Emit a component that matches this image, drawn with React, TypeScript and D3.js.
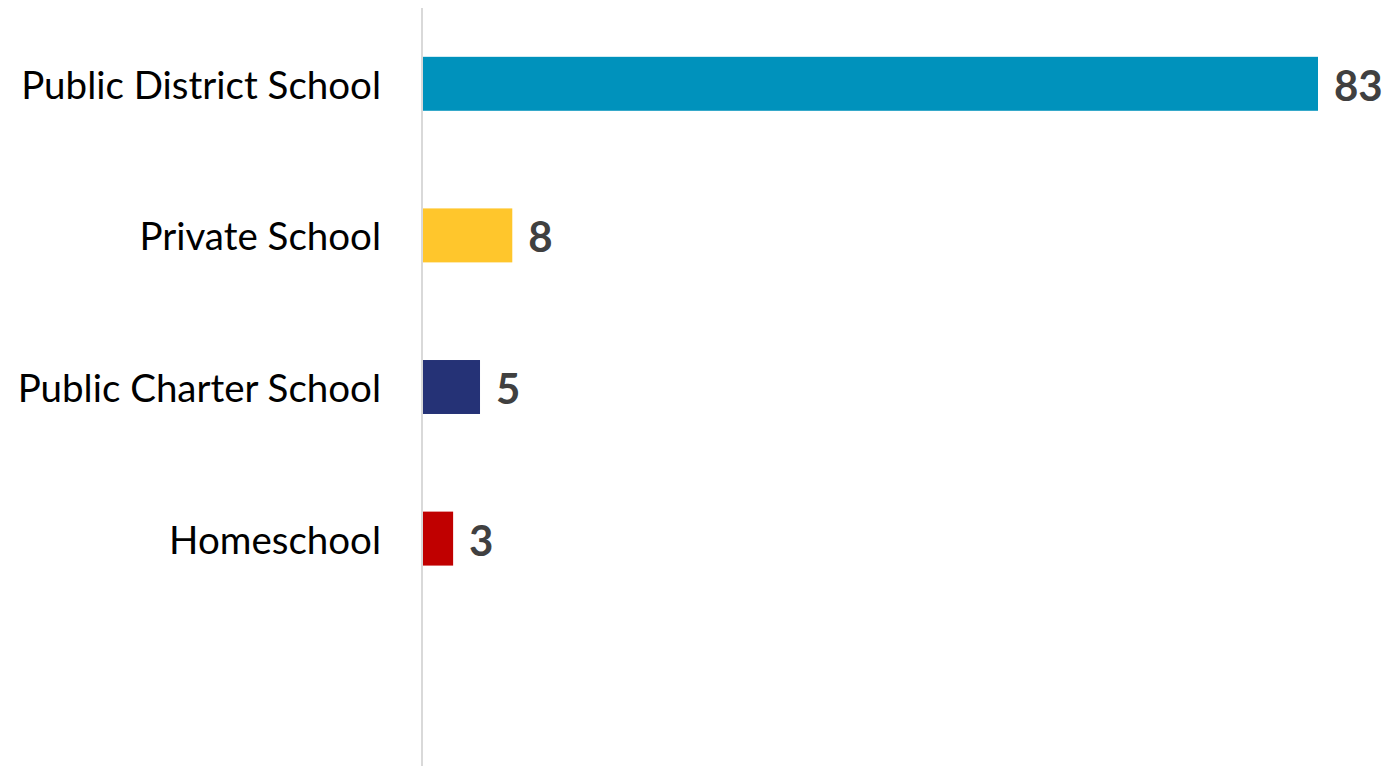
import React, { useEffect, useRef } from 'react';
import * as d3 from 'd3';

const categories = ['Public District School', 'Private School', 'Public Charter School', 'Homeschool'];
const values = [83.2, 8.3, 5.3, 2.8];
const valueLabels = ['83', '8', '5', '3'];
const colors = ['#0092BC', '#FFC62C', '#253276', '#C00000'];

const W = 1386;
const H = 766;

const App: React.FC = () => {
  const svgRef = useRef<SVGSVGElement>(null);

  useEffect(() => {
    document.body.style.margin = '0';
    if (!svgRef.current) return;
    const svg = d3.select(svgRef.current);
    svg.selectAll('*').remove();

    const axisX = 422;
    const top = 8;
    const step = (H - top) / 5;

    const y = d3.scaleBand<string>()
      .domain(categories)
      .range([top, top + step * categories.length])
      .paddingInner(0.644)
      .paddingOuter(0.322);

    const x = d3.scaleLinear()
      .domain([0, d3.max(values) || 0])
      .range([axisX + 1, 1318]);

    // Axis line
    svg.append('line')
      .attr('x1', axisX).attr('x2', axisX)
      .attr('y1', top).attr('y2', H)
      .attr('stroke', '#d9d9d9')
      .attr('stroke-width', 2);

    // Bars
    svg.selectAll('.bar')
      .data(categories)
      .enter()
      .append('rect')
      .attr('class', 'bar')
      .attr('x', x(0))
      .attr('y', d => y(d) || 0)
      .attr('width', (_, i) => x(values[i]) - x(0))
      .attr('height', y.bandwidth())
      .attr('fill', (_, i) => colors[i]);

    // Category labels
    svg.selectAll('.cat')
      .data(categories)
      .enter()
      .append('text')
      .attr('class', 'cat')
      .attr('x', 381)
      .attr('y', d => (y(d) || 0) + y.bandwidth() / 2 + 15)
      .attr('text-anchor', 'end')
      .attr('font-family', 'Lato, sans-serif')
      .attr('font-size', 38.5)
      .attr('fill', '#000')
      .text(d => d);

    // Value labels
    svg.selectAll('.val')
      .data(categories)
      .enter()
      .append('text')
      .attr('class', 'val')
      .attr('x', (_, i) => x(values[i]) + 16)
      .attr('y', d => (y(d) || 0) + y.bandwidth() / 2 + 17)
      .attr('font-family', 'Lato, sans-serif')
      .attr('font-weight', 'bold')
      .attr('font-size', 42)
      .attr('fill', '#404040')
      .text((_, i) => valueLabels[i]);
  }, []);

  return <svg ref={svgRef} width={W} height={H} style={{ display: 'block', background: '#fff' }} />;
};

export default App;
